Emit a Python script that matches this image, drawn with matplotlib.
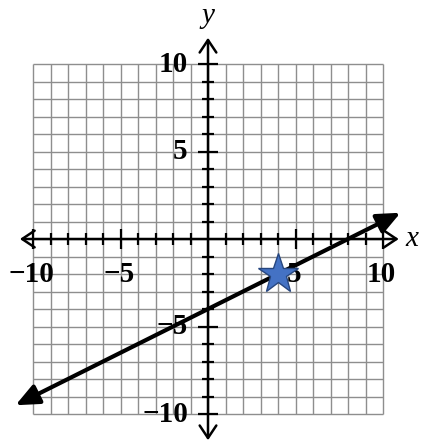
import matplotlib
matplotlib.use("Agg")
import matplotlib.pyplot as plt

# ---- data ----
grid_vals = list(range(-10, 11))
tick_vals = [v for v in grid_vals if v != 0]
major_ticks = [-10, -5, 5, 10]
x_tick_labels = {-10: "\u221210", -5: "\u22125", 5: "5", 10: "10"}
y_tick_labels = {10: "10", 5: "5", -5: "\u22125", -10: "\u221210"}
line_x = [-11.0, 11.0]
line_y = [-9.5, 1.5]
star_x = [4]
star_y = [-2]

fig = plt.figure(figsize=(4.22, 4.42), dpi=100)
ax = fig.add_axes([0, 0, 1, 1])
ax.set_xlim(-208 / 17.5, (422 - 208) / 17.5)
ax.set_ylim((239 - 442) / 17.5, 239 / 17.5)
ax.axis("off")

gcol = "#8e8e8e"
# grid
ax.vlines(grid_vals, -10, 10, colors=gcol, lw=1.0, zorder=1)
ax.hlines(grid_vals, -10, 10, colors=gcol, lw=1.0, zorder=1)

# axes with open arrowheads
axstyle = "<->,head_length=0.45,head_width=0.3"
ax.annotate("", xy=(10.9, 0), xytext=(-10.75, 0),
            arrowprops=dict(arrowstyle=axstyle, lw=1.8, color="black",
                            mutation_scale=20, shrinkA=0, shrinkB=0), zorder=3)
ax.annotate("", xy=(0, 11.5), xytext=(0, -11.5),
            arrowprops=dict(arrowstyle=axstyle, lw=1.8, color="black",
                            mutation_scale=20, shrinkA=0, shrinkB=0), zorder=3)

# ticks
for v in tick_vals:
    h = 0.55 if v in major_ticks else 0.32
    ax.plot([v, v], [-h, h], color="black", lw=1.6, zorder=3, solid_capstyle="butt")
    ax.plot([-h, h], [v, v], color="black", lw=1.6, zorder=3, solid_capstyle="butt")

# labels
font = dict(family="Liberation Serif", fontweight="bold", fontsize=21)
for v, s in x_tick_labels.items():
    ax.text(v - 0.1, -2.05, s, ha="center", va="center", zorder=4, **font)
for v, s in y_tick_labels.items():
    ax.text(-1.15, v, s, ha="right", va="center", zorder=4, **font)

ax.text(11.65, 0.0, "x", family="Liberation Serif", style="italic",
        fontsize=21, ha="center", va="center")
ax.text(0.0, 12.75, "y", family="Liberation Serif", style="italic",
        fontsize=21, ha="center", va="center")

# the line with filled arrowheads
ax.annotate("", xy=(line_x[1], line_y[1]), xytext=(line_x[0], line_y[0]),
            arrowprops=dict(arrowstyle="<|-|>,head_length=0.5,head_width=0.22",
                            lw=3.0, color="black", mutation_scale=28,
                            shrinkA=0, shrinkB=0), zorder=5)

# star
ax.plot(star_x, star_y, marker="*", markersize=30, color="#4472C4",
        markeredgecolor="#26467F", markeredgewidth=1.0, linestyle="none", zorder=6)

fig.savefig("out.png", dpi=100)
